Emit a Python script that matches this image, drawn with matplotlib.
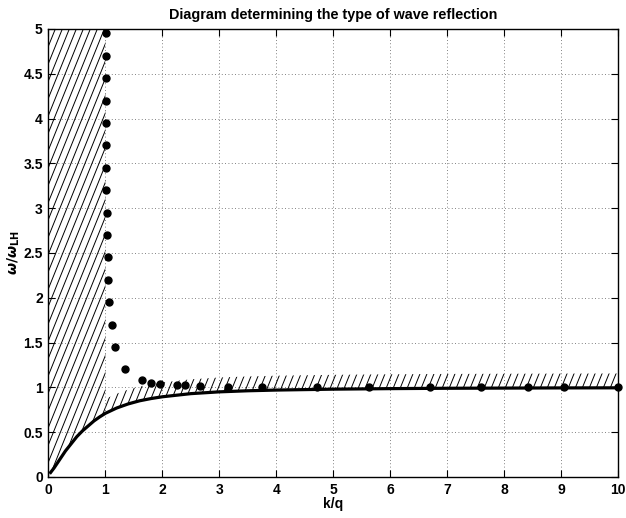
import numpy as np
import matplotlib
matplotlib.use("Agg")
import matplotlib.pyplot as plt
from matplotlib.collections import LineCollection
from matplotlib.patches import Polygon
from matplotlib.ticker import FormatStrFormatter

plt.rcParams['font.family'] = ['Liberation Sans', 'DejaVu Sans']
plt.rcParams['font.weight'] = 'bold'
plt.rcParams['mathtext.fontset'] = 'dejavusans'

# boundary curve
curve_k = [0.04, 0.1, 0.2, 0.3, 0.4, 0.5, 0.6, 0.7, 0.8, 0.9, 1.0, 1.2, 1.4,
           1.6, 1.8, 2.0, 2.5, 3.0, 3.5, 4.0, 5.0, 6.0, 7.0, 8.0, 9.0, 10.0]
curve_w = [0.05, 0.10, 0.195, 0.29, 0.37, 0.45, 0.515, 0.57, 0.625, 0.67, 0.71,
           0.77, 0.815, 0.85, 0.875, 0.895, 0.93, 0.95, 0.962, 0.97, 0.98,
           0.986, 0.99, 0.992, 0.994, 0.995]

# measured points
dot_k = [1.005, 1.005, 1.005, 1.005, 1.01, 1.01, 1.015, 1.02, 1.025, 1.03,
         1.04, 1.055, 1.07, 1.11, 1.168, 1.338, 1.641, 1.804, 1.956, 2.249,
         2.406, 2.657, 3.152, 3.748, 4.72, 5.62, 6.69, 7.59, 8.41, 9.04, 10.0]
dot_w = [4.95, 4.7, 4.45, 4.2, 3.95, 3.7, 3.45, 3.2, 2.95, 2.7, 2.45, 2.2,
         1.95, 1.7, 1.45, 1.2, 1.077, 1.05, 1.036, 1.025, 1.021, 1.013, 1.006,
         1.002, 1.0, 1.0, 1.0, 1.0, 1.0, 1.0, 1.0]

strip = 0.16

fig = plt.figure(figsize=(6.26, 5.18), dpi=100)
ax = fig.add_axes([0.0772, 0.0792, 0.9105, 0.8649])
ax.set_xlim(0, 10)
ax.set_ylim(0, 5)

ck = np.array(curve_k)
cw = np.array(curve_w)

# hatched regions
left = ck <= 1.0
left_pts = list(zip(ck[left], cw[left])) + [(1.0, 5.0), (0.0, 5.0), (0.0, 0.0)]
right = ck >= 1.0
right_pts = list(zip(ck[right], cw[right])) + list(zip(ck[right][::-1], cw[right][::-1] + strip))

W, H = 570.0, 448.0
ang = np.deg2rad(68)
dx = H / np.tan(ang)
segs = []
for c in np.arange(-dx, W + 8, 7.0):
    segs.append([(c / W, 0.0), ((c + dx) / W, 1.0)])

for pts in (left_pts, right_pts):
    poly = Polygon(pts, closed=True, facecolor='none', edgecolor='none')
    ax.add_patch(poly)
    lc = LineCollection(segs, colors='black', linewidths=0.7, transform=ax.transAxes)
    lc.set_clip_path(poly)
    ax.add_collection(lc)

ax.plot(curve_k, curve_w, color='black', linewidth=2.3, zorder=3)
ax.plot(dot_k, dot_w, 'o', color='black', markersize=5, zorder=4, clip_on=False)

ax.set_xticks(np.arange(0, 11, 1))
ax.set_yticks(np.arange(0, 5.01, 0.5))
ax.yaxis.set_major_formatter(FormatStrFormatter('%g'))
ax.tick_params(direction='in', top=True, right=True, length=5, labelsize=10, pad=4)
ax.grid(True, linestyle=(0, (1, 3)), color='0.35', linewidth=0.6)
for s in ax.spines.values():
    s.set_linewidth(1.0)

ax.set_title('Diagram determining the type of wave reflection', fontsize=10.4,
             fontweight='bold', pad=7)
ax.set_xlabel('k/q', fontsize=10, fontweight='bold', labelpad=0)
ax.set_ylabel(r'$\omega/\omega_{\mathbf{LH}}$', fontsize=10, labelpad=1)

fig.savefig('out.png', dpi=100)
